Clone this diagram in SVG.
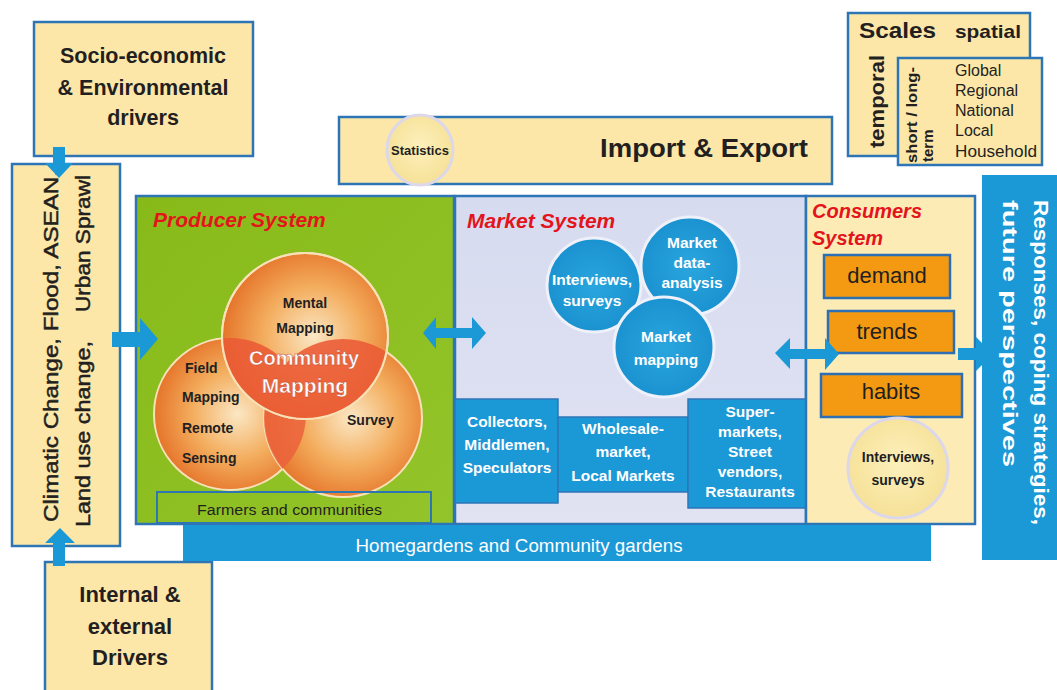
<svg xmlns="http://www.w3.org/2000/svg" width="1057" height="690" viewBox="0 0 1057 690">
<defs>
<style>
.cream{fill:#fce7a9;stroke:#2e75b6;stroke-width:2.5}
.bl{fill:#1b98d6}
.t{font-family:"Liberation Sans",Arial,sans-serif;fill:#231f20}
.b{font-weight:bold}
.w{fill:#ffffff}
.red{fill:#e3141b;font-style:italic;font-weight:bold}
.c{text-anchor:middle}
.org{fill:#f39a12;stroke:#2e6fb3;stroke-width:2.5}
.mk{fill:url(#gBlue);stroke:#eef0fa;stroke-width:3}
.pc{stroke:#f7e2b8;stroke-width:2}
.heavy{stroke:#231f20;stroke-width:0.5}
</style>
<radialGradient id="gOr" cx="0.55" cy="0.5" r="0.55">
<stop offset="0" stop-color="#fbe7c4"/>
<stop offset="0.55" stop-color="#f3ac5c"/>
<stop offset="1" stop-color="#e5742a"/>
</radialGradient>
<radialGradient id="gBlue" cx="0.5" cy="0.5" r="0.5">
<stop offset="0" stop-color="#2aa6de"/>
<stop offset="1" stop-color="#1a92d0"/>
</radialGradient>
<radialGradient id="gYel" cx="0.5" cy="0.45" r="0.5">
<stop offset="0" stop-color="#fdf0bc"/>
<stop offset="1" stop-color="#f6e29a"/>
</radialGradient>
<linearGradient id="gGreen" x1="0" y1="0" x2="1" y2="1">
<stop offset="0" stop-color="#87ba19"/>
<stop offset="1" stop-color="#93c42a"/>
</linearGradient>
<linearGradient id="gMk" x1="0" y1="0" x2="0" y2="1">
<stop offset="0" stop-color="#d7dbef"/>
<stop offset="1" stop-color="#e1e3f3"/>
</linearGradient>
<clipPath id="clipLR"><circle cx="230" cy="414" r="76"/><circle cx="343" cy="418" r="79"/></clipPath>
<clipPath id="clipL"><circle cx="230" cy="414" r="76"/></clipPath>
</defs>
<rect width="1057" height="690" fill="#ffffff"/>

<g id="socio">
<rect class="cream" x="34" y="22" width="219" height="134"/>
<text class="t b c" x="143" y="63" font-size="21.5">Socio-economic</text>
<text class="t b c" x="143" y="95" font-size="21.5">&amp; Environmental</text>
<text class="t b c" x="143" y="125" font-size="21.5">drivers</text>
</g>

<g id="climate">
<rect class="cream" x="12" y="164" width="108" height="382"/>
<text class="t heavy" font-size="21" transform="translate(58,522) rotate(-90)" textLength="352" lengthAdjust="spacingAndGlyphs">Climatic Change, Flood, ASEAN,</text>
<text class="t heavy" font-size="21" transform="translate(90,527) rotate(-90)" textLength="186" lengthAdjust="spacingAndGlyphs">Land use change,</text>
<text class="t heavy" font-size="21" transform="translate(90,312) rotate(-90)" textLength="137" lengthAdjust="spacingAndGlyphs">Urban Sprawl</text>
</g>

<g id="internal">
<rect class="cream" x="45" y="562" width="167" height="140"/>
<text class="t b c" x="130" y="602" font-size="22">Internal &amp;</text>
<text class="t b c" x="130" y="634" font-size="22">external</text>
<text class="t b c" x="130" y="665" font-size="22">Drivers</text>
</g>

<g id="scales">
<rect class="cream" x="848" y="13" width="182" height="143"/>
<rect class="cream" x="898" y="58" width="144" height="107"/>
<text class="t b" x="859" y="38" font-size="22" textLength="77" lengthAdjust="spacingAndGlyphs">Scales</text>
<text class="t b" x="955" y="38" font-size="19" textLength="66" lengthAdjust="spacingAndGlyphs">spatial</text>
<text class="t b" font-size="20" transform="translate(884,148) rotate(-90)" textLength="93" lengthAdjust="spacingAndGlyphs">temporal</text>
<text class="t b" font-size="15" transform="translate(917,163) rotate(-90)" textLength="96" lengthAdjust="spacingAndGlyphs">short / long-</text>
<text class="t b" font-size="15" transform="translate(933,162) rotate(-90)">term</text>
<text class="t" x="955" y="76" font-size="16">Global</text>
<text class="t" x="955" y="96" font-size="16">Regional</text>
<text class="t" x="955" y="116" font-size="16">National</text>
<text class="t" x="955" y="136" font-size="16">Local</text>
<text class="t" x="955" y="157" font-size="16" textLength="82" lengthAdjust="spacingAndGlyphs">Household</text>
</g>

<g id="import-export">
<rect class="cream" x="339" y="117" width="493" height="67"/>
<ellipse cx="420" cy="150" rx="33" ry="35" fill="url(#gYel)" stroke="#dcd8ea" stroke-width="3"/>
<text class="t b c" x="420" y="155" font-size="13">Statistics</text>
<text class="t b" x="600" y="157" font-size="26" textLength="208" lengthAdjust="spacingAndGlyphs">Import &amp; Export</text>
</g>

<g id="producer-system">
<rect x="136" y="196" width="318" height="328" fill="url(#gGreen)" stroke="#2e75b6" stroke-width="2.5"/>
<text class="t red" x="153" y="227" font-size="21">Producer System</text>
<circle class="pc" cx="230" cy="414" r="76" fill="url(#gOr)"/>
<circle class="pc" cx="343" cy="418" r="79" fill="url(#gOr)"/>
<circle cx="343" cy="418" r="79" fill="#eb623c" opacity="0.85" clip-path="url(#clipL)"/>
<circle class="pc" cx="305" cy="336" r="83" fill="url(#gOr)"/>
<circle cx="305" cy="336" r="83" fill="#ea5a35" opacity="0.88" clip-path="url(#clipLR)"/>
<circle cx="305" cy="336" r="83" fill="none" stroke="#f7e2b8" stroke-width="2"/>
<text class="t b c" x="305" y="308" font-size="14">Mental</text>
<text class="t b c" x="305" y="333" font-size="14">Mapping</text>
<text class="t b c w" x="304" y="365" font-size="20" stroke="#c0452a" stroke-width="0.4">Community</text>
<text class="t b c w" x="305" y="393" font-size="21" stroke="#c0452a" stroke-width="0.4">Mapping</text>
<text class="t b" x="185" y="373" font-size="14">Field</text>
<text class="t b" x="182" y="402" font-size="14">Mapping</text>
<text class="t b" x="182" y="433" font-size="14">Remote</text>
<text class="t b" x="182" y="463" font-size="14">Sensing</text>
<text class="t b" x="347" y="425" font-size="14">Survey</text>
<rect x="157" y="492" width="274" height="31" fill="none" stroke="#2e75b6" stroke-width="2"/>
<text class="t" x="197" y="515" font-size="14" textLength="185" lengthAdjust="spacingAndGlyphs">Farmers and communities</text>
</g>

<g id="market-system">
<rect x="455" y="196" width="351" height="328" fill="url(#gMk)" stroke="#2e75b6" stroke-width="2.5"/>
<text class="t red" x="467" y="228" font-size="21">Market System</text>
<circle class="mk" cx="594" cy="285" r="47"/>
<circle class="mk" cx="690" cy="266" r="49"/>
<circle class="mk" cx="664" cy="347" r="50"/>
<text class="t b c w" x="592" y="285" font-size="15.5">Interviews,</text>
<text class="t b c w" x="592" y="306" font-size="15.5">surveys</text>
<text class="t b c w" x="692" y="248" font-size="15.5">Market</text>
<text class="t b c w" x="692" y="268" font-size="15.5">data-</text>
<text class="t b c w" x="692" y="288" font-size="15.5">analysis</text>
<text class="t b c w" x="666" y="342" font-size="15.5">Market</text>
<text class="t b c w" x="666" y="365" font-size="15.5">mapping</text>
<rect class="bl" x="455" y="399" width="103" height="104" stroke="#2e75b6" stroke-width="1.5"/>
<rect class="bl" x="558" y="417" width="130" height="75" stroke="#2e75b6" stroke-width="1.5"/>
<rect class="bl" x="688" y="399" width="118" height="109" stroke="#2e75b6" stroke-width="1.5"/>
<text class="t b c w" x="507" y="427" font-size="15.5">Collectors,</text>
<text class="t b c w" x="507" y="450" font-size="15.5">Middlemen,</text>
<text class="t b c w" x="507" y="473" font-size="15.5">Speculators</text>
<text class="t b c w" x="623" y="434" font-size="15.5">Wholesale-</text>
<text class="t b c w" x="623" y="457" font-size="15.5">market,</text>
<text class="t b c w" x="623" y="481" font-size="15.5">Local Markets</text>
<text class="t b c w" x="750" y="417" font-size="15.5">Super-</text>
<text class="t b c w" x="750" y="437" font-size="15.5">markets,</text>
<text class="t b c w" x="750" y="457" font-size="15.5">Street</text>
<text class="t b c w" x="750" y="477" font-size="15.5">vendors,</text>
<text class="t b c w" x="750" y="497" font-size="15.5">Restaurants</text>
</g>

<g id="consumers-system">
<rect x="806" y="196" width="169" height="328" fill="#fdebb6" stroke="#2e75b6" stroke-width="2.5"/>
<text class="t red" x="812" y="218" font-size="20">Consumers</text>
<text class="t red" x="812" y="245" font-size="20">System</text>
<rect class="org" x="824" y="255" width="126" height="43"/>
<rect class="org" x="828" y="311" width="126" height="42"/>
<rect class="org" x="821" y="374" width="141" height="43"/>
<text class="t c" x="887" y="283" font-size="22">demand</text>
<text class="t c" x="887" y="339" font-size="22">trends</text>
<text class="t c" x="891" y="399" font-size="22">habits</text>
<circle cx="898" cy="468" r="50" fill="url(#gYel)" stroke="#dcd8ea" stroke-width="3"/>
<text class="t b c" x="898" y="462" font-size="14">Interviews,</text>
<text class="t b c" x="898" y="485" font-size="14">surveys</text>
</g>

<g id="homegardens">
<rect class="bl" x="183" y="525" width="748" height="36"/>
<text class="t c w" x="519" y="552" font-size="19" textLength="327" lengthAdjust="spacingAndGlyphs">Homegardens and Community gardens</text>
</g>

<g id="connectors" class="bl">
<path d="M53,147 H65 V163 H73 L59,178 L45,163 H53 Z"/>
<path d="M53,566 H65 V543 H75 L60,528 L45,543 H53 Z"/>
<path d="M112,332 H140 V318 L158,339 L140,360 V347 H112 Z"/>
<path d="M423,333 L436,317 V328 H472 V317 L486,333 L472,349 V338 H436 V349 Z"/>
<path d="M775,353 L790,338 V349 H825 V338 L839,354 L825,370 V359 H790 V369 Z"/>
<path d="M958,348 H976 V337 L993,354 L976,371 V360 H958 Z"/>
</g>

<g id="responses">
<rect class="bl" x="982" y="175" width="75" height="385"/>
<text class="t b w" font-size="21" transform="translate(1034,200) rotate(90)" textLength="325" lengthAdjust="spacingAndGlyphs">Responses, coping strategies,</text>
<text class="t b w" font-size="21" transform="translate(1003,200) rotate(90)" textLength="267" lengthAdjust="spacingAndGlyphs">future perspectives</text>
</g>
</svg>
